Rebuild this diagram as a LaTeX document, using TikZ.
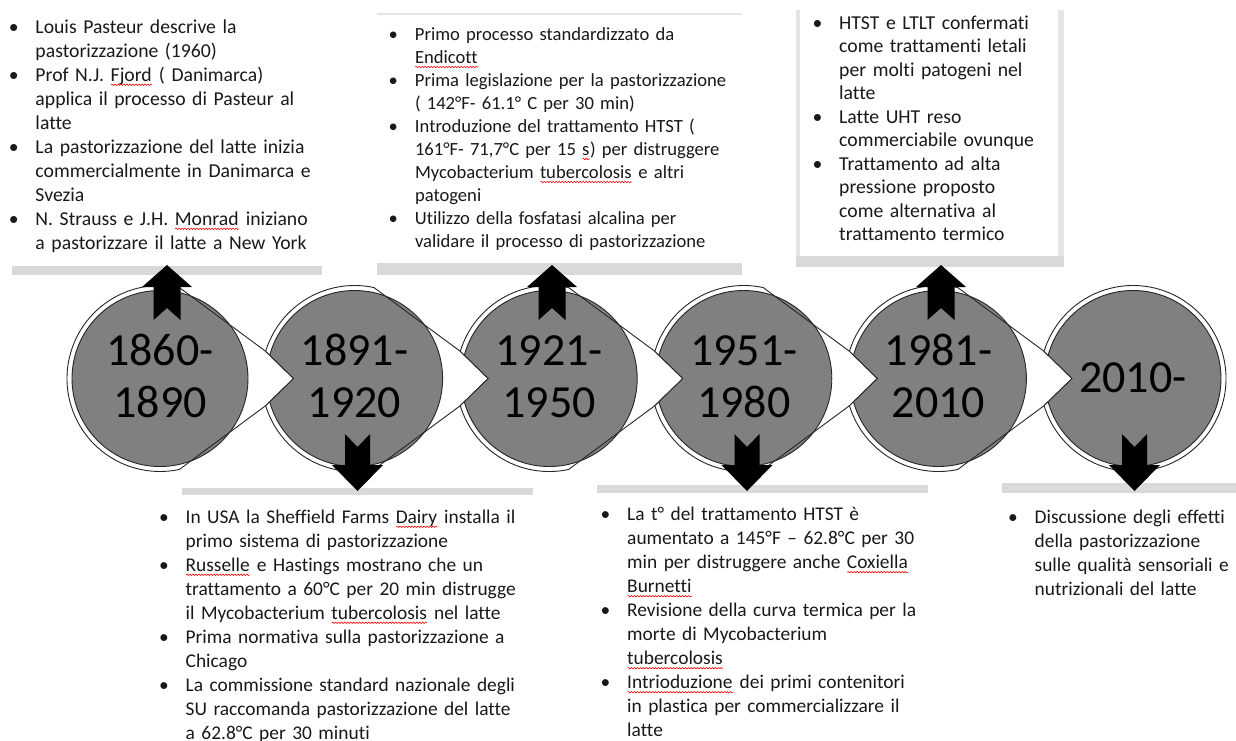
\documentclass[tikz,border=0pt]{standalone}
\usepackage{fontspec}
\setmainfont{Carlito}[Ligatures=NoCommon]
\usetikzlibrary{calc,decorations.pathmorphing}
\newcommand\sq[1]{\setbox0\hbox{#1}\rlap{\copy0}\tikz[baseline=0pt]\draw[red,line width=0.6pt,decorate,decoration={snake,amplitude=0.7pt,segment length=3pt}] (0pt,-3.5pt) -- (\the\wd0,-3.5pt);}
\newcommand\bu{\makebox[26.5pt][l]{\textbullet}}
\newcommand\ci{\hspace*{26.5pt}}
\begin{document}
\begin{tikzpicture}[x=1pt,y=1pt,
  ring/.style={fill=white,draw=none},
  core/.style={fill=black!50,draw=black!85,line width=0.9pt},
  edge/.style={draw=black!85,line width=0.9pt},
  yr/.style={font=\fontsize{46}{52}\selectfont,text width=170pt,align=center,inner sep=0pt,text=black,anchor=base},
  bar/.style={fill=black!15,draw=none},
  barlite/.style={fill=black!10,draw=none},
  blk/.style={fill=black,draw=none},
  txt/.style={anchor=base west,inner sep=0pt,text width=450pt,align=left,text=black!90}]

\useasboundingbox (0,0) rectangle (1236,-740);
\fill[white] (0,0) rectangle (1236,-740);

% shadow bars of text boxes
\fill[bar] (12,-266) rectangle (322,-275);
\fill[barlite] (377,-13) rectangle (742,-15);
\fill[bar] (377,-263) rectangle (742,-275);
\fill[barlite] (796,-10) rectangle (800,-262);
\fill[barlite] (1058,-10) rectangle (1064,-262);
\fill[bar] (796,-256) rectangle (1064,-267);
\fill[bar] (182,-488) rectangle (533,-495);
\fill[bar] (597,-485) rectangle (928,-493);
\fill[bar] (1002,-483) rectangle (1236,-493);

\foreach \i/\x in {1/160,2/354.6,3/549.2,4/743.8,5/938.4,6/1133}
  \coordinate (c\i) at (\x,-378.5);

% circle 1
\def\pth{($(c1)+(78:93)$) arc[start angle=78,end angle=282,radius=93] -- ($(c2)+(197:93)$) -- ($(c2)+(-61,0)$) -- ($(c2)+(163:93)$) -- cycle}
\path[ring] \pth;
\path[core] (c1) circle[radius=88];
\draw[edge] \pth;

% circles 2-5
\foreach \j/\k in {2/3,3/4,4/5,5/6}{
  \def\pth{($(c\j)+(78:93)$) arc[start angle=78,end angle=163,radius=93] -- ($(c\j)+(-61,0)$) -- ($(c\j)+(197:93)$) arc[start angle=197,end angle=282,radius=93] -- ($(c\k)+(197:93)$) -- ($(c\k)+(-61,0)$) -- ($(c\k)+(163:93)$) -- cycle}
  \def\notched{($(c\j)+(197:93)$) arc[start angle=197,end angle=523,radius=93] -- ($(c\j)+(-61,0)$) -- cycle}
  \path[ring] \pth;
  \begin{scope}\clip \notched; \path[core] (c\j) circle[radius=88]; \end{scope}
  \draw[edge] \pth;
}

% circle 6
\def\pth{($(c6)+(197:93)$) arc[start angle=197,end angle=523,radius=93] -- ($(c6)+(-61,0)$) -- cycle}
\path[ring] \pth;
\begin{scope}\clip \pth; \path[core] (c6) circle[radius=88]; \end{scope}
\draw[edge] \pth;

% year labels
\node[yr] (y1) at (160,-365) {1860-\\1890};
\node[yr] (y2) at (354.6,-365) {1891-\\1920};
\node[yr] (y3) at (549.2,-365) {1921-\\1950};
\node[yr] (y4) at (743.8,-365) {1951-\\1980};
\node[yr] (y5) at (938.4,-365) {1981-\\2010};
\node[yr] (y6) at (1133,-392) {2010-};

% notched arrows
\foreach \x in {167,552,941}
  \fill[blk] (\x,-265) -- (\x+25,-287) -- (\x+13.5,-287) -- (\x+13.5,-320) -- (\x,-308) -- (\x-13.5,-320) -- (\x-13.5,-287) -- (\x-25,-287) -- cycle;
\foreach \x in {357.5,747,1134.5}
  \fill[blk] (\x,-491) -- (\x+25.5,-465) -- (\x+12.5,-465) -- (\x+12.5,-434) -- (\x,-447) -- (\x-12.5,-434) -- (\x-12.5,-465) -- (\x-25.5,-465) -- cycle;

% texts
\node[txt,font=\fontsize{19.7}{24}\selectfont] (t1) at (8.8,-33.3) {\bu Louis Pasteur descrive la\\ \ci pastorizzazione (1960)\\ \bu Prof N.J. \sq{Fjord} ( Danimarca)\\ \ci applica il processo di Pasteur al\\ \ci latte\\ \bu La pastorizzazione del latte inizia\\ \ci commercialmente in Danimarca e\\ \ci Svezia\\ \bu N. Strauss e J.H. \sq{Monrad} iniziano\\ \ci a pastorizzare il latte a New York};

\node[txt,font=\fontsize{18.6}{23}\selectfont] (t3) at (388.3,-40.5) {\bu Primo processo standardizzato da\\ \ci \sq{Endicott}\\ \bu Prima legislazione per la pastorizzazione\\ \ci ( 142°F- 61.1° C per 30 min)\\ \bu Introduzione del trattamento HTST (\\ \ci 161°F- 71,7°C per 15 \sq{s}) per distruggere\\ \ci Mycobacterium \sq{tubercolosis} e altri\\ \ci patogeni\\ \bu Utilizzo della fosfatasi alcalina per\\ \ci validare il processo di pastorizzazione};

\node[txt,font=\fontsize{19.7}{23.5}\selectfont] (t5) at (812.5,-29.3) {\bu HTST e LTLT confermati\\ \ci come trattamenti letali\\ \ci per molti patogeni nel\\ \ci latte\\ \bu Latte UHT reso\\ \ci commerciabile ovunque\\ \bu Trattamento ad alta\\ \ci pressione proposto\\ \ci come alternativa al\\ \ci trattamento termico};

\node[txt,font=\fontsize{19.4}{24}\selectfont] (t2) at (159,-523.3) {\bu In USA la Sheffield Farms \sq{Dairy} installa il\\ \ci primo sistema di pastorizzazione\\ \bu \sq{Russelle} e Hastings mostrano che un\\ \ci trattamento a 60°C per 20 min distrugge\\ \ci il Mycobacterium \sq{tubercolosis} nel latte\\ \bu Prima normativa sulla pastorizzazione a\\ \ci Chicago\\ \bu La commissione standard nazionale degli\\ \ci SU raccomanda pastorizzazione del latte\\ \ci a 62.8°C per 30 minuti};

\node[txt,font=\fontsize{19.4}{24}\selectfont] (t4) at (600.5,-520.7) {\bu La t° del trattamento HTST è\\ \ci aumentato a 145°F – 62.8°C per 30\\ \ci min per distruggere anche \sq{Coxiella}\\ \ci \sq{Burnetti}\\ \bu Revisione della curva termica per la\\ \ci morte di Mycobacterium\\ \ci \sq{tubercolosis}\\ \bu \sq{Intrioduzione} dei primi contenitori\\ \ci in plastica per commercializzare il\\ \ci latte};

\node[txt,font=\fontsize{19.4}{24}\selectfont] (t6) at (1008,-523.3) {\bu Discussione degli effetti\\ \ci della pastorizzazione\\ \ci sulle qualità sensoriali e\\ \ci nutrizionali del latte};
\end{tikzpicture}
\end{document}
